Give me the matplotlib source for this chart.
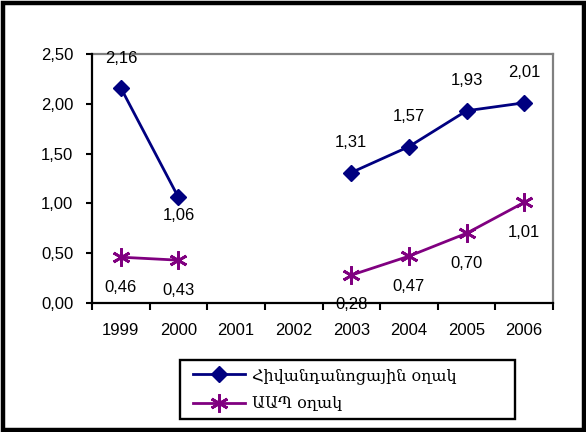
import matplotlib
matplotlib.use("Agg")
import matplotlib.pyplot as plt
from matplotlib.patches import Rectangle
from matplotlib.ticker import FixedLocator, FuncFormatter
import numpy as np

years = ["1999", "2000", "2001", "2002", "2003", "2004", "2005", "2006"]
hospital = [2.16, 1.06, np.nan, np.nan, 1.31, 1.57, 1.93, 2.01]
phc = [0.46, 0.43, np.nan, np.nan, 0.28, 0.47, 0.70, 1.01]
hospital_label = "Հիվանդանոցային օղակ"
phc_label = "ԱԱՊ օղակ"
y_ticks = [0.0, 0.5, 1.0, 1.5, 2.0, 2.5]

plt.rcParams['font.family'] = ['Liberation Sans', 'DejaVu Sans']

W, H = 586, 432
fig = plt.figure(figsize=(W / 100, H / 100), dpi=100)

L, R, T, B = 92, 553, 54, 303
ax = fig.add_axes([L / W, 1 - B / H, (R - L) / W, (B - T) / H])

x = np.arange(len(years))
navy = "#000080"
purple = "#800080"

ax.plot(x, hospital, color=navy, lw=2, marker="D", ms=8, mfc=navy, mec=navy,
        label=hospital_label)
ax.plot(x, phc, color=purple, lw=2, marker=(6, 2, 0), ms=13, mew=2,
        mec=purple, label=phc_label)

def fmt(v):
    return f"{v:.2f}".replace(".", ",")

fs = 12
for i, v in enumerate(hospital):
    if np.isnan(v):
        continue
    off = -13 if years[i] == "2000" else 21.5
    ax.annotate(fmt(v), (x[i], v), xytext=(0, off), textcoords="offset points",
                ha="center", va="center", fontsize=fs, color="black")
for i, v in enumerate(phc):
    if np.isnan(v):
        continue
    ax.annotate(fmt(v), (x[i], v), xytext=(0, -21.5), textcoords="offset points",
                ha="center", va="center", fontsize=fs, color="black",
                annotation_clip=False)

ax.set_xlim(-0.5, len(years) - 0.5)
ax.set_ylim(0, 2.5)
ax.yaxis.set_major_locator(FixedLocator(y_ticks))
ax.yaxis.set_major_formatter(FuncFormatter(lambda v, p: fmt(v)))
ax.set_xticks(np.arange(-0.5, len(years), 1.0))
ax.set_xticklabels([])
ax.set_xticks(x, minor=True)
ax.set_xticklabels(years, minor=True)
ax.tick_params(axis="x", which="major", direction="out", length=5, width=1.5, color="black")
ax.tick_params(axis="x", which="minor", length=0, pad=14.5, labelsize=fs)
ax.tick_params(axis="y", direction="out", length=4, width=1.5, pad=9.5, labelsize=fs)

for s in ["left", "bottom"]:
    ax.spines[s].set_linewidth(1.6)
    ax.spines[s].set_color("black")
for s in ["top", "right"]:
    ax.spines[s].set_linewidth(1.6)
    ax.spines[s].set_color("#808080")
ax.spines["left"].set_zorder(5)
ax.spines["bottom"].set_zorder(5)

# legend box
fig.patches.append(Rectangle((180 / W, 1 - 419 / H), 335 / W, 59 / H,
                             transform=fig.transFigure, fill=False,
                             edgecolor="black", linewidth=1.7))
leg = fig.legend(loc="center left", bbox_to_anchor=(193 / W, 1 - 389.5 / H),
                 borderaxespad=0, borderpad=0, frameon=False,
                 handlelength=3.25, handletextpad=0.45, labelspacing=0.72,
                 prop={"family": ["DejaVu Serif"], "size": 11.5})

# outer frame
fig.patches.append(Rectangle((2.5 / W, 2.5 / H), (W - 4.5) / W, (H - 5) / H,
                             transform=fig.transFigure, fill=False,
                             edgecolor="black", linewidth=3.2))

fig.savefig("out.png", dpi=100)
